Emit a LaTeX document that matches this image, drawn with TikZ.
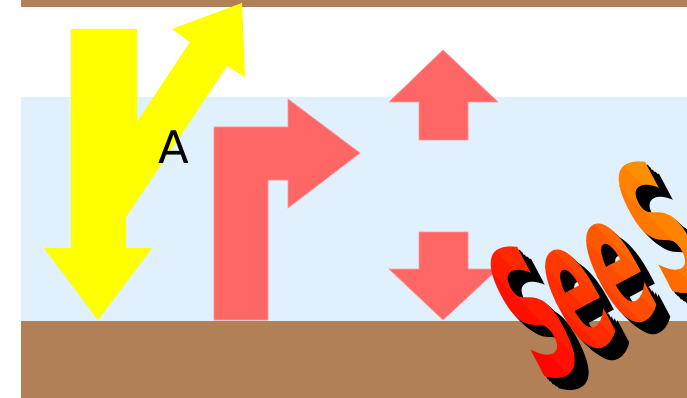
\documentclass[tikz,border=0pt]{standalone}
\usepackage{fontspec}
\newfontfamily\afont{DejaVu Sans}
\newfontfamily\wafont{DejaVu Sans}
\definecolor{brownband}{HTML}{B18056}
\definecolor{skyband}{HTML}{E0F0FC}
\definecolor{arrowred}{HTML}{FF6666}
\definecolor{arrowrededge}{HTML}{FF9A9A}
\definecolor{arrowyellow}{HTML}{FFFF00}
\definecolor{waA}{HTML}{FF0000}
\definecolor{waB}{HTML}{FFA500}
\tikzset{
  redshape/.style={fill=arrowred,draw=arrowrededge,line width=0.6pt},
  waletter/.style={font=\wafont\bfseries\fontsize{10}{10}\selectfont,inner sep=0pt,
    rotate=28,xscale=7,yscale=19},
}
% shadow (extrusion) of one letter: #1 char, #2 x, #3 y
\newcommand\washadow[3]{%
  \foreach \k in {1,...,5} {
    \node[waletter,text=black] at ([shift={(\k*2.8,\k*2.4)}]#2,#3) {#1};
  }}
% gradient face of one letter: #1 char, #2 x, #3 y, #4 name
\newcommand\waface[4]{%
  \foreach \i in {-3,...,2} {
    \pgfmathsetmacro\tlo{#2-#3+25*\i}
    \pgfmathsetmacro\thi{\tlo+26}
    \pgfmathsetmacro\pc{min(100,max(0,(\tlo+12.5-175)/3.4))}
    \colorlet{wacur}{waB!\pc!waA}
    \begin{scope}
      \clip (\tlo+100,100) -- (\thi+100,100) -- (\thi+400,400) -- (\tlo+400,400) -- cycle;
      \node[waletter,text=wacur] (#4) at (#2,#3) {#1};
    \end{scope}
  }}
\begin{document}
\begin{tikzpicture}[x=1pt,y=-1pt]
\useasboundingbox (0,0) rectangle (687,398);
\clip (0,0) rectangle (687,398);
\fill[white] (0,0) rectangle (687,398);
% bands
\fill[brownband] (21,0) rectangle (687,7);
\fill[skyband] (21,97) rectangle (687,321);
\fill[brownband] (21,321) rectangle (687,398);
% yellow arrows
\fill[arrowyellow] (98,320) -- (44,248) -- (71,248) -- (71,29) -- (137,29) -- (137,122)
  -- (190,42) -- (172,29) -- (242,3) -- (245,77) -- (227,66) -- (126,217)
  -- (126,248) -- (152,248) -- cycle;
% red bent arrow
\filldraw[redshape] (214,320) -- (214,127) -- (288,127) -- (288,99) -- (360,153)
  -- (288,208) -- (288,180) -- (268,180) -- (268,320) -- cycle;
% red up arrow
\filldraw[redshape] (443,50) -- (498,102) -- (468,102) -- (468,140) -- (419,140)
  -- (419,102) -- (389,102) -- cycle;
% red down arrow
\filldraw[redshape] (419,232) -- (468,232) -- (468,269) -- (498,269) -- (443,320)
  -- (389,269) -- (419,269) -- cycle;
% label
\node[font=\afont\fontsize{45}{45}\selectfont,inner sep=0pt] (labelA) at (174,147) {A};
% word art "See S": extrusion first, then gradient faces
\washadow{S}{533}{313}
\washadow{e}{578}{300}
\washadow{e}{619}{274}
\washadow{S}{661}{228}
\waface{S}{533}{313}{waS1}
\waface{e}{578}{300}{wae1}
\waface{e}{619}{274}{wae2}
\waface{S}{661}{228}{waS2}
\end{tikzpicture}
\end{document}
